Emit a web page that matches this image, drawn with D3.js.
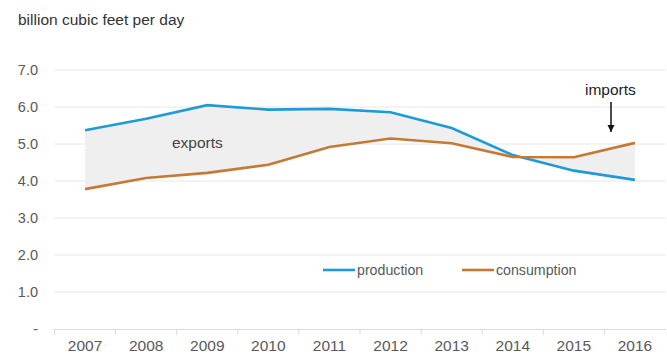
<!DOCTYPE html>
<html>
<head>
<meta charset="utf-8">
<script src="https://cdn.jsdelivr.net/npm/d3@7"></script>
<style>
  body { margin: 0; background: #fff; }
  text { font-family: "Liberation Sans", Arial, sans-serif; }
</style>
</head>
<body>
<div id="chart"></div>
<script>
const years = [2007, 2008, 2009, 2010, 2011, 2012, 2013, 2014, 2015, 2016];
const production = [5.37, 5.68, 6.05, 5.93, 5.95, 5.86, 5.43, 4.70, 4.28, 4.03];
const consumption = [3.78, 4.08, 4.22, 4.44, 4.92, 5.15, 5.02, 4.65, 4.64, 5.03];
const yTicks = [0, 1, 2, 3, 4, 5, 6, 7];

const width = 667, height = 355;
const margin = { top: 70, right: 2, bottom: 26, left: 54.5 };

const svg = d3.select('#chart')
  .append('svg')
  .attr('width', width)
  .attr('height', height);

const x = d3.scaleBand()
  .domain(years)
  .range([margin.left, 665.5]);

const y = d3.scaleLinear()
  .domain([0, 7])
  .range([329, 70]);

const cx = d => x(d) + x.bandwidth() / 2;

// gridlines
svg.append('g')
  .selectAll('line')
  .data(yTicks.filter(d => d > 0))
  .join('line')
  .attr('x1', margin.left)
  .attr('x2', 665.5)
  .attr('y1', d => y(d))
  .attr('y2', d => y(d))
  .attr('stroke', '#e6e6e6')
  .attr('stroke-width', 1);

// y labels
svg.append('g')
  .selectAll('text')
  .data(yTicks)
  .join('text')
  .attr('x', 38)
  .attr('y', d => y(d))
  .attr('dy', '0.36em')
  .attr('text-anchor', 'end')
  .attr('fill', '#595959')
  .style('font-size', '14.5px')
  .text(d => d === 0 ? '-' : d.toFixed(1));

// x axis
const xAxis = svg.append('g')
  .attr('transform', `translate(0,${y(0)})`)
  .call(d3.axisBottom(x).tickSize(0).tickPadding(11));
xAxis.select('.domain').attr('stroke', '#d9d9d9');
xAxis.selectAll('text')
  .attr('fill', '#595959')
  .style('font-size', '15.5px')
  .style('font-family', '"Liberation Sans", Arial, sans-serif');

// tick marks at band boundaries
svg.append('g')
  .selectAll('line')
  .data(years)
  .join('line')
  .attr('x1', d => x(d))
  .attr('x2', d => x(d))
  .attr('y1', y(0))
  .attr('y2', y(0) + 6)
  .attr('stroke', '#d9d9d9');

// area between
const rows = years.map((yr, i) => ({ yr, p: production[i], c: consumption[i] }));
svg.append('path')
  .datum(rows)
  .attr('fill', '#efefef')
  .attr('d', d3.area()
    .x(d => cx(d.yr))
    .y0(d => y(d.c))
    .y1(d => y(d.p)));

const line = key => d3.line()
  .x(d => cx(d.yr))
  .y(d => y(d[key]));

svg.append('path')
  .datum(rows)
  .attr('fill', 'none')
  .attr('stroke', '#1e9bd7')
  .attr('stroke-width', 2.6)
  .attr('d', line('p'));

svg.append('path')
  .datum(rows)
  .attr('fill', 'none')
  .attr('stroke', '#c47a36')
  .attr('stroke-width', 2.6)
  .attr('d', line('c'));

// title
svg.append('text')
  .attr('x', 18)
  .attr('y', 25)
  .attr('fill', '#333')
  .style('font-size', '15.5px')
  .text('billion cubic feet per day');

// annotations
svg.append('text')
  .attr('x', 172)
  .attr('y', 148)
  .attr('fill', '#444')
  .style('font-size', '15.5px')
  .text('exports');

svg.append('text')
  .attr('x', 585)
  .attr('y', 95)
  .attr('fill', '#222')
  .style('font-size', '15.5px')
  .text('imports');

svg.append('defs').append('marker')
  .attr('id', 'arrow')
  .attr('viewBox', '0 0 10 10')
  .attr('refX', 10)
  .attr('refY', 5)
  .attr('markerWidth', 5)
  .attr('markerHeight', 5)
  .attr('orient', 'auto')
  .append('path')
  .attr('d', 'M0,0L10,5L0,10Z')
  .attr('fill', '#111');

svg.append('line')
  .attr('x1', 611)
  .attr('x2', 611)
  .attr('y1', 102)
  .attr('y2', 132)
  .attr('stroke', '#111')
  .attr('stroke-width', 1.5)
  .attr('marker-end', 'url(#arrow)');

// legend
const legend = [
  { name: 'production', color: '#1e9bd7', x: 323 },
  { name: 'consumption', color: '#c47a36', x: 462 }
];
const lg = svg.append('g')
  .selectAll('g')
  .data(legend)
  .join('g')
  .attr('transform', d => `translate(${d.x},270)`);
lg.append('line')
  .attr('x1', 0).attr('x2', 32)
  .attr('stroke', d => d.color)
  .attr('stroke-width', 2.6);
lg.append('text')
  .attr('x', 34)
  .attr('dy', '0.35em')
  .attr('fill', '#595959')
  .style('font-size', '14.2px')
  .text(d => d.name);
</script>
</body>
</html>
